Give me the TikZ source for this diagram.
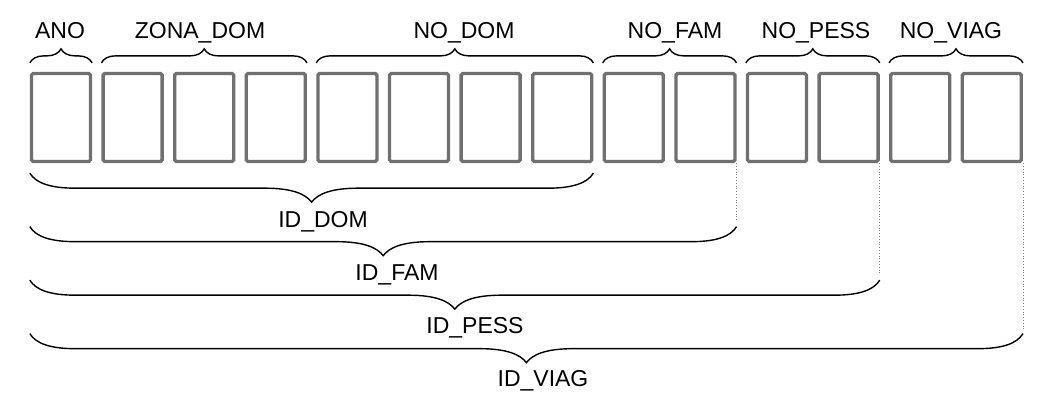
\documentclass[tikz,border=0pt]{standalone}
\usepackage{fontspec}
\setmainfont{Liberation Sans}
\usetikzlibrary{decorations.pathreplacing,calc}
\definecolor{boxGray}{HTML}{707070}
\tikzset{
	field/.style={draw=boxGray, line width=1.65pt, rounded corners=0.8pt, minimum width=29.5pt, minimum height=44pt, inner sep=0},
	topbrace/.style={decorate, decoration={brace, amplitude=7pt}, line width=0.7pt},
	idbrace/.style={line width=0.7pt, to path={let \p1=(\tikztostart), \p2=(\tikztotarget), \p3=($(\tikztostart)!.5!(\tikztotarget)$) in
			.. controls +(3pt,-5pt) and +(-12pt,0pt) .. (\x1+22.5pt,\y1-7.5pt)
			-- (\x3-23.5pt,\y1-7.5pt)
			.. controls +(14pt,0pt) and +(-3pt,4pt) .. (\x3,\y1-14.5pt)
			.. controls +(3pt,4pt) and +(-14pt,0pt) .. (\x3+23.5pt,\y1-7.5pt)
			-- (\x2-22.5pt,\y2-7.5pt)
			.. controls +(12pt,0pt) and +(-3pt,-5pt) .. (\x2,\y2)}},
	lab/.style={anchor=base, font=\fontsize{11.5}{14}\selectfont},
	guide/.style={densely dotted, line width=0.4pt, gray}
}

\begin{document}
\begin{tikzpicture}[x=0.5pt, y=-0.5pt]
	\useasboundingbox (0,0) rectangle (1050,404);
	% the fourteen digits
	\foreach \i in {1,...,14}
		\node[field] (b\i) at ({61+71.6*(\i-1)},117.5) {};
	
	% field braces
	\draw[topbrace] ([yshift=4.5pt]b1.north west) -- ([yshift=4.5pt]b1.north east);
	\draw[topbrace] ([yshift=4.5pt]b2.north west) -- ([yshift=4.5pt]b4.north east);
	\draw[topbrace] ([yshift=4.5pt]b5.north west) -- ([yshift=4.5pt]b8.north east);
	\draw[topbrace] ([yshift=4.5pt]b9.north west) -- ([yshift=4.5pt]b10.north east);
	\draw[topbrace] ([yshift=4.5pt]b11.north west) -- ([yshift=4.5pt]b12.north east);
	\draw[topbrace] ([yshift=4.5pt]b13.north west) -- ([yshift=4.5pt]b14.north east);
	\node[lab] (lano) at (60,38) {ANO};
	\node[lab] (lzona) at (200,38) {ZONA\_DOM};
	\node[lab] (ldom) at (464,38) {NO\_DOM};
	\node[lab] (lfam) at (675,38) {NO\_FAM};
	\node[lab] (lpess) at (816,38) {NO\_PESS};
	\node[lab] (lviag) at (951,38) {NO\_VIAG};
	
	% key braces
	\coordinate (s1) at ([yshift=-5pt]b1.south west);
	\coordinate (e1) at ([yshift=-5pt]b8.south east);
	\coordinate (s2) at ([yshift=-31.75pt]b1.south west);
	\coordinate (e2) at ([yshift=-31.75pt]b10.south east);
	\coordinate (s3) at ([yshift=-58.5pt]b1.south west);
	\coordinate (e3) at ([yshift=-58.5pt]b12.south east);
	\coordinate (s4) at ([yshift=-85.25pt]b1.south west);
	\coordinate (e4) at ([yshift=-85.25pt]b14.south east);
	\draw[idbrace] (s1) to (e1);
	\draw[idbrace] (s2) to (e2);
	\draw[idbrace] (s3) to (e3);
	\draw[idbrace] (s4) to (e4);
	\draw[guide, shorten >=2.5pt] (b10.south east) -- (e2);
	\draw[guide, shorten >=2.5pt] (b12.south east) -- (e3);
	\draw[guide, shorten >=2.5pt] (b14.south east) -- (e4);
	\node[lab] (iddom) at (323,227) {ID\_DOM};
	\node[lab] (idfam) at (397,280) {ID\_FAM};
	\node[lab] (idpess) at (475,333) {ID\_PESS};
	\node[lab] (idviag) at (543,386) {ID\_VIAG};
\end{tikzpicture}
\end{document}
